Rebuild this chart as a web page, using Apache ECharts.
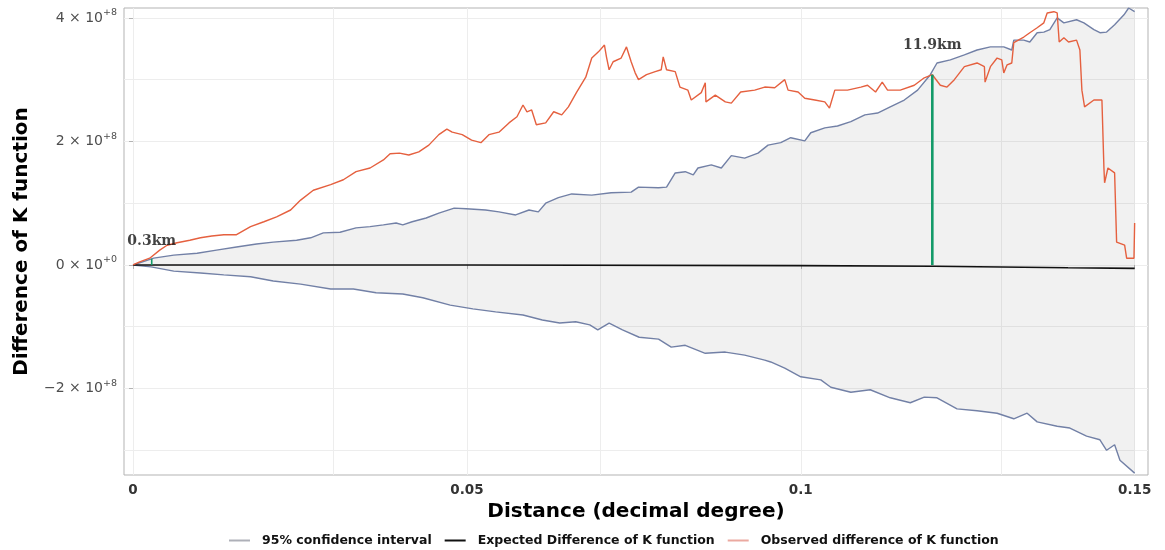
<!DOCTYPE html>
<html>
<head>
<meta charset="utf-8">
<script src="https://cdn.jsdelivr.net/npm/echarts@6/dist/echarts.min.js"></script>
<style>html,body{margin:0;padding:0;background:#fff}#c{width:1165px;height:550px}</style>
</head>
<body>
<div id="c"></div>
<script>
// Values on the y axis are in units of 1e8.
const obsX = [0,0.0010,0.0025,0.0040,0.0051,0.0066,0.0085,0.0101,0.0118,0.0136,0.0155,0.0176,0.0196,0.0215,0.0236,0.0251,0.0270,0.0296,0.0315,0.0334,0.0355,0.0375,0.0385,0.0399,0.0413,0.0428,0.0443,0.0458,0.0470,0.0478,0.0493,0.0507,0.0521,0.0533,0.0548,0.0563,0.0575,0.0584,0.0590,0.0597,0.0604,0.0618,0.0630,0.0642,0.0652,0.0664,0.0678,0.0687,0.0697,0.0706,0.0709,0.0713,0.0719,0.0731,0.0739,0.0746,0.0752,0.0757,0.0769,0.0782,0.0791,0.0794,0.0799,0.0812,0.0819,0.0831,0.0836,0.0851,0.0857,0.0858,0.0872,0.0887,0.0896,0.0910,0.0931,0.0946,0.0961,0.0976,0.0981,0.0996,0.1006,0.1021,0.1036,0.1043,0.1051,0.1070,0.1090,0.1100,0.1112,0.1122,0.1130,0.1149,0.1170,0.1185,0.1197,0.1209,0.1219,0.1230,0.1245,0.1264,0.1275,0.1276,0.1284,0.1294,0.1301,0.1304,0.1309,0.1316,0.1319,0.1334,0.1343,0.1354,0.1364,0.1369,0.1379,0.1384,0.1387,0.1394,0.1401,0.1413,0.1418,0.1421,0.1425,0.1439,0.1451,0.1454,0.1455,0.1460,0.1470,0.1473,0.1485,0.1488,0.1499,0.1500];
const obsY = [0,0.05,0.11,0.24,0.32,0.36,0.40,0.44,0.47,0.49,0.49,0.62,0.70,0.78,0.89,1.05,1.21,1.30,1.38,1.51,1.57,1.70,1.80,1.81,1.78,1.83,1.94,2.11,2.20,2.15,2.11,2.02,1.98,2.11,2.15,2.30,2.40,2.59,2.48,2.51,2.27,2.30,2.48,2.43,2.56,2.79,3.04,3.35,3.45,3.56,3.37,3.16,3.29,3.35,3.53,3.29,3.11,3.00,3.08,3.13,3.16,3.37,3.16,3.13,2.88,2.83,2.67,2.79,2.95,2.64,2.75,2.64,2.62,2.80,2.83,2.88,2.87,3.00,2.83,2.80,2.70,2.67,2.64,2.54,2.83,2.83,2.88,2.91,2.80,2.96,2.83,2.83,2.91,3.03,3.08,2.91,2.88,3.00,3.21,3.27,3.21,2.96,3.21,3.35,3.32,3.11,3.24,3.27,3.60,3.69,3.76,3.84,3.92,4.08,4.10,4.08,3.61,3.68,3.61,3.64,3.48,2.83,2.56,2.67,2.67,1.57,1.33,1.57,1.49,0.37,0.32,0.11,0.11,0.68];

const upX = [0,0.0031,0.0061,0.0096,0.0125,0.0155,0.0185,0.0210,0.0245,0.0266,0.0285,0.0310,0.0334,0.0355,0.0375,0.0394,0.0404,0.0418,0.0439,0.0458,0.0481,0.0499,0.0528,0.0548,0.0573,0.0593,0.0607,0.0618,0.0637,0.0657,0.0687,0.0716,0.0746,0.0757,0.0787,0.0799,0.0812,0.0827,0.0839,0.0846,0.0866,0.0881,0.0896,0.0916,0.0936,0.0951,0.0970,0.0985,0.1006,0.1015,0.1036,0.1055,0.1075,0.1096,0.1115,0.1134,0.1155,0.1175,0.1194,0.1204,0.1224,0.1245,0.1264,0.1284,0.1304,0.1316,0.1319,0.1334,0.1343,0.1354,0.1364,0.1373,0.1384,0.1394,0.1413,0.1424,0.1439,0.1448,0.1458,0.1470,0.1484,0.1491,0.1500];
const upY = [0,0.11,0.16,0.19,0.24,0.29,0.34,0.37,0.40,0.44,0.52,0.53,0.60,0.62,0.65,0.68,0.65,0.70,0.76,0.84,0.92,0.91,0.89,0.86,0.81,0.89,0.86,1.00,1.09,1.15,1.13,1.17,1.18,1.26,1.25,1.26,1.49,1.51,1.46,1.57,1.62,1.57,1.77,1.73,1.81,1.94,1.98,2.06,2.01,2.14,2.22,2.25,2.32,2.43,2.46,2.56,2.67,2.83,3.08,3.27,3.32,3.40,3.48,3.53,3.53,3.48,3.64,3.64,3.61,3.76,3.77,3.81,4.00,3.92,3.97,3.92,3.81,3.76,3.77,3.89,4.05,4.16,4.10];

const loX = [0,0.0027,0.0061,0.0101,0.0136,0.0176,0.0210,0.0251,0.0296,0.0330,0.0364,0.0404,0.0434,0.0475,0.0509,0.0543,0.0584,0.0613,0.0639,0.0663,0.0684,0.0696,0.0713,0.0733,0.0758,0.0787,0.0806,0.0827,0.0857,0.0887,0.0916,0.0946,0.0955,0.0976,0.1000,0.1030,0.1045,0.1075,0.1104,0.1134,0.1164,0.1185,0.1204,0.1234,0.1264,0.1294,0.1319,0.1339,0.1354,0.1384,0.1403,0.1428,0.1448,0.1458,0.1470,0.1478,0.1500];
const loY = [0,-0.03,-0.10,-0.13,-0.16,-0.19,-0.26,-0.31,-0.39,-0.39,-0.45,-0.47,-0.53,-0.65,-0.71,-0.76,-0.81,-0.89,-0.94,-0.92,-0.97,-1.05,-0.94,-1.05,-1.17,-1.20,-1.33,-1.30,-1.43,-1.41,-1.46,-1.54,-1.57,-1.67,-1.81,-1.86,-1.98,-2.06,-2.02,-2.15,-2.23,-2.14,-2.15,-2.33,-2.36,-2.40,-2.49,-2.40,-2.54,-2.61,-2.64,-2.77,-2.83,-3.00,-2.91,-3.16,-3.37];

const expX = [0,0.05,0.10,0.12,0.14,0.15];
const expY = [0,0,-0.01,-0.02,-0.045,-0.055];

const markX = [0.0028,0.1197];     // green vertical segments
const markTop = [0.10,3.08];
const markText = ['0.3km','11.9km'];
const markTextY = [0.39,3.56];

const xTicks = [0,0.05,0.10,0.15];
const xTickLabels = ['0','0.05','0.1','0.15'];
const yTicks = [-2,0,2,4];
const yTickMant = ['\u22122 \u00d7 10','0 \u00d7 10','2 \u00d7 10','4 \u00d7 10'];
const yTickExp = ['+8','+0','+8','+8'];
const xGrid = [0,0.025,0.05,0.075,0.1,0.125,0.15];
const yGrid = [-3,-2,-1,0,1,2,3,4];

const zip = (xs, ys) => xs.map((x, i) => [x, ys[i]]);
const ribbon = zip(upX, upY).concat(zip(loX, loY).reverse());

const FONT = 'DejaVu Sans';
const chart = echarts.init(document.getElementById('c'), null, {renderer: 'canvas'});
chart.setOption({
  animation: false,
  backgroundColor: '#fff',
  grid: {left: 124, right: 17, top: 8, bottom: 75, show: true, borderColor: '#B3B3B3', borderWidth: 1, backgroundColor: 'transparent'},
  xAxis: {
    type: 'value', min: -0.00135, max: 0.152,
    axisLine: {show: false},
    axisTick: {show: true, length: 4, customValues: xTicks, lineStyle: {color: '#B3B3B3'}},
    axisLabel: {customValues: xTicks, margin: 8, fontFamily: FONT, fontWeight: 'bold', fontSize: 13.5, color: '#333',
      formatter: v => xTickLabels[xTicks.findIndex(t => Math.abs(t - v) < 1e-9)] ?? ''},
    splitLine: {show: false},
    name: 'Distance (decimal degree)', nameLocation: 'middle', nameGap: 22,
    nameTextStyle: {fontFamily: FONT, fontWeight: 'bold', fontSize: 20, color: '#000'}
  },
  yAxis: {
    type: 'value', min: -3.40, max: 4.16,
    axisLine: {show: false},
    axisTick: {show: true, length: 4, customValues: yTicks, lineStyle: {color: '#B3B3B3'}},
    axisLabel: {customValues: yTicks, margin: 7, color: '#4D4D4D',
      formatter: v => { const i = yTicks.findIndex(t => Math.abs(t - v) < 1e-9); return i < 0 ? '' : '{m|' + yTickMant[i] + '}{e|' + yTickExp[i] + '}'; },
      rich: {m: {fontFamily: FONT, fontSize: 14, color: '#4D4D4D'}, e: {fontFamily: FONT, fontSize: 9.5, color: '#4D4D4D', padding: [0, 0, 10, 0]}}},
    splitLine: {show: false},
    name: 'Difference of K function', nameLocation: 'middle', nameGap: 92,
    nameTextStyle: {fontFamily: FONT, fontWeight: 'bold', fontSize: 20, color: '#000'}
  },
  legend: {
    left: 224, top: 529, itemGap: 13, itemWidth: 21, itemHeight: 2, icon: 'rect',
    textStyle: {fontFamily: FONT, fontWeight: 'bold', fontSize: 12.5, color: '#111', padding: [0, 0, 0, 7]},
    data: [
      {name: '95% confidence interval', itemStyle: {color: '#AEB0B8'}},
      {name: 'Expected Difference of K function', itemStyle: {color: '#111'}},
      {name: 'Observed difference of K function', itemStyle: {color: '#EBA9A0'}}
    ]
  },
  series: [
    {
      type: 'line', data: [], silent: true, z: 0,
      markLine: {silent: true, symbol: 'none', z: 0, label: {show: false},
        lineStyle: {color: '#EDEDED', width: 1, type: 'solid'},
        data: xGrid.map(v => ({xAxis: v})).concat(yGrid.map(v => ({yAxis: v})))}
    },
    {
      type: 'custom', silent: true, z: 1, clip: true,
      data: [[0, 0]],
      renderItem: (params, api) => ({
        type: 'polygon',
        shape: {points: ribbon.map(p => api.coord(p))},
        style: {fill: 'rgba(0,0,0,0.055)', stroke: 'none'}
      })
    },
    {name: '95% confidence interval', type: 'line', data: zip(upX, upY), showSymbol: false, z: 3,
      lineStyle: {color: '#7280A6', width: 1.4}, itemStyle: {color: '#7280A6'}},
    {name: '95% confidence interval', type: 'line', data: zip(loX, loY), showSymbol: false, z: 3,
      lineStyle: {color: '#7280A6', width: 1.4}, itemStyle: {color: '#7280A6'}},
    {name: 'Expected Difference of K function', type: 'line', data: zip(expX, expY), showSymbol: false, z: 4,
      lineStyle: {color: '#111', width: 1.6}, itemStyle: {color: '#111'}},
    {name: 'Observed difference of K function', type: 'line', data: zip(obsX, obsY), showSymbol: false, z: 5,
      lineStyle: {color: '#E5603F', width: 1.4}, itemStyle: {color: '#E5603F'}},
    {type: 'line', data: [[markX[1], 0], [markX[1], markTop[1]]], showSymbol: false, z: 6, silent: true,
      lineStyle: {color: '#139A68', width: 2.6}},
    {type: 'line', data: [[markX[0], 0], [markX[0], markTop[0]]], showSymbol: false, z: 6, silent: true,
      lineStyle: {color: '#139A68', width: 1.6}},
    {type: 'scatter', symbolSize: 0, z: 7, silent: true,
      data: markX.map((x, i) => ({value: [x, markTextY[i]], label: {formatter: markText[i]}})),
      label: {show: true, position: 'inside', fontFamily: 'DejaVu Serif', fontWeight: 'bold', fontSize: 14, color: '#111'}}
  ]
});
</script>
</body>
</html>
